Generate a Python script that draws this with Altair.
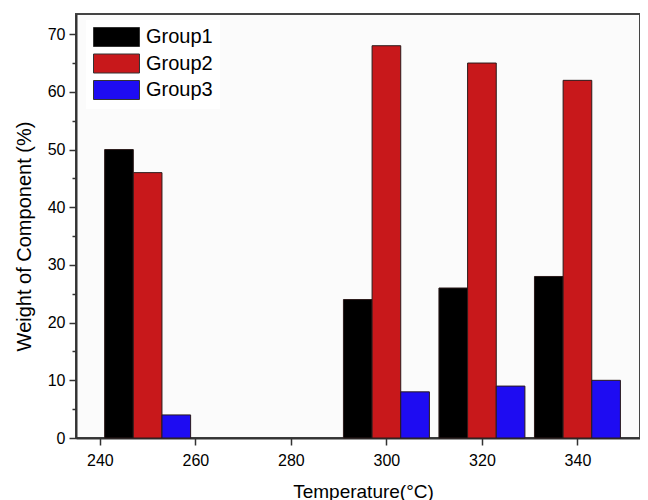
import altair as alt
import pandas as pd

# ---- data ----
temperatures = [250, 300, 320, 340]
groups = ["Group1", "Group2", "Group3"]
group1 = [50, 24, 26, 28]
group2 = [46, 68, 65, 62]
group3 = [4, 8, 9, 10]
colors = ["#000000", "#c8181b", "#1e0cf2"]
x_ticks = [240, 260, 280, 300, 320, 340]
y_ticks = [0, 5, 10, 15, 20, 25, 30, 35, 40, 45, 50, 55, 60, 65, 70]

# layout constants (in data units of the temperature axis)
bar_width = 6
group_shift = {"Group1": -bar_width, "Group2": 0, "Group3": bar_width}

rows = []
for g, vals in zip(groups, [group1, group2, group3]):
    for t, v in zip(temperatures, vals):
        c = t + group_shift[g]
        rows.append({"Temperature": t, "Group": g, "Value": v,
                     "x0": c - bar_width / 2, "x1": c + bar_width / 2})
df = pd.DataFrame(rows)

FONT = "Liberation Sans"

bars = alt.Chart(df).mark_bar(stroke="#2a1a1a", strokeWidth=1, opacity=1).encode(
    x=alt.X("x0:Q",
            scale=alt.Scale(domain=[235, 353.1], nice=False, zero=False),
            axis=alt.Axis(values=x_ticks, title="Temperature(°C)", grid=False,
                          format="d", labelFontSize=16, labelPadding=7,
                          tickSize=7, tickWidth=1.5, tickColor="#333",
                          domainColor="#333", domainWidth=2,
                          titleFontSize=19, titleFontWeight="normal",
                          titleX=287, titleY=59, titleBaseline="alphabetic",
                          titleAlign="center")),
    x2="x1:Q",
    y=alt.Y("Value:Q",
            scale=alt.Scale(domain=[0, 73.5], nice=False),
            axis=alt.Axis(values=y_ticks, title="Weight of Component (%)", grid=False,
                          labelExpr="datum.value % 10 === 0 ? datum.label : ''",
                          labelFontSize=16, labelPadding=4,
                          tickSize={"condition": {"test": "datum.value % 10 === 0", "value": 7}, "value": 4},
                          tickWidth=1.5, tickColor="#333",
                          domainColor="#333", domainWidth=2,
                          titleFontSize=20, titleFontWeight="normal",
                          titleX=-52, titleY=222, titleAngle=270,
                          titleAlign="center", titleBaseline="middle")),
    y2=alt.datum(0),
    color=alt.Color("Group:N",
                    scale=alt.Scale(domain=groups, range=colors),
                    legend=alt.Legend(title=None, orient="none", legendX=10, legendY=6,
                                      direction="vertical",
                                      symbolType="M-1,-1H3.842V1H-1Z", symbolSize=361,
                                      symbolStrokeColor="#333", symbolStrokeWidth=1,
                                      symbolOpacity=1,
                                      labelFontSize=20, labelOffset=33, labelColor="black",
                                      rowPadding=2.5, padding=7, fillColor="white")),
)

chart = bars.properties(
    width=564, height=424,
    autosize=alt.AutoSizeParams(type="none"),
    padding={"left": 68, "top": 6, "right": 0, "bottom": 62},
).configure(
    font=FONT,
).configure_view(
    stroke="#444", strokeWidth=2, fill="#fbfbfb",
).configure_axis(
    labelColor="black", titleColor="black", labelFont=FONT, titleFont=FONT,
).configure_legend(
    labelFont=FONT,
)

chart.save("out.html", embed_options={"renderer": "svg", "actions": False})
